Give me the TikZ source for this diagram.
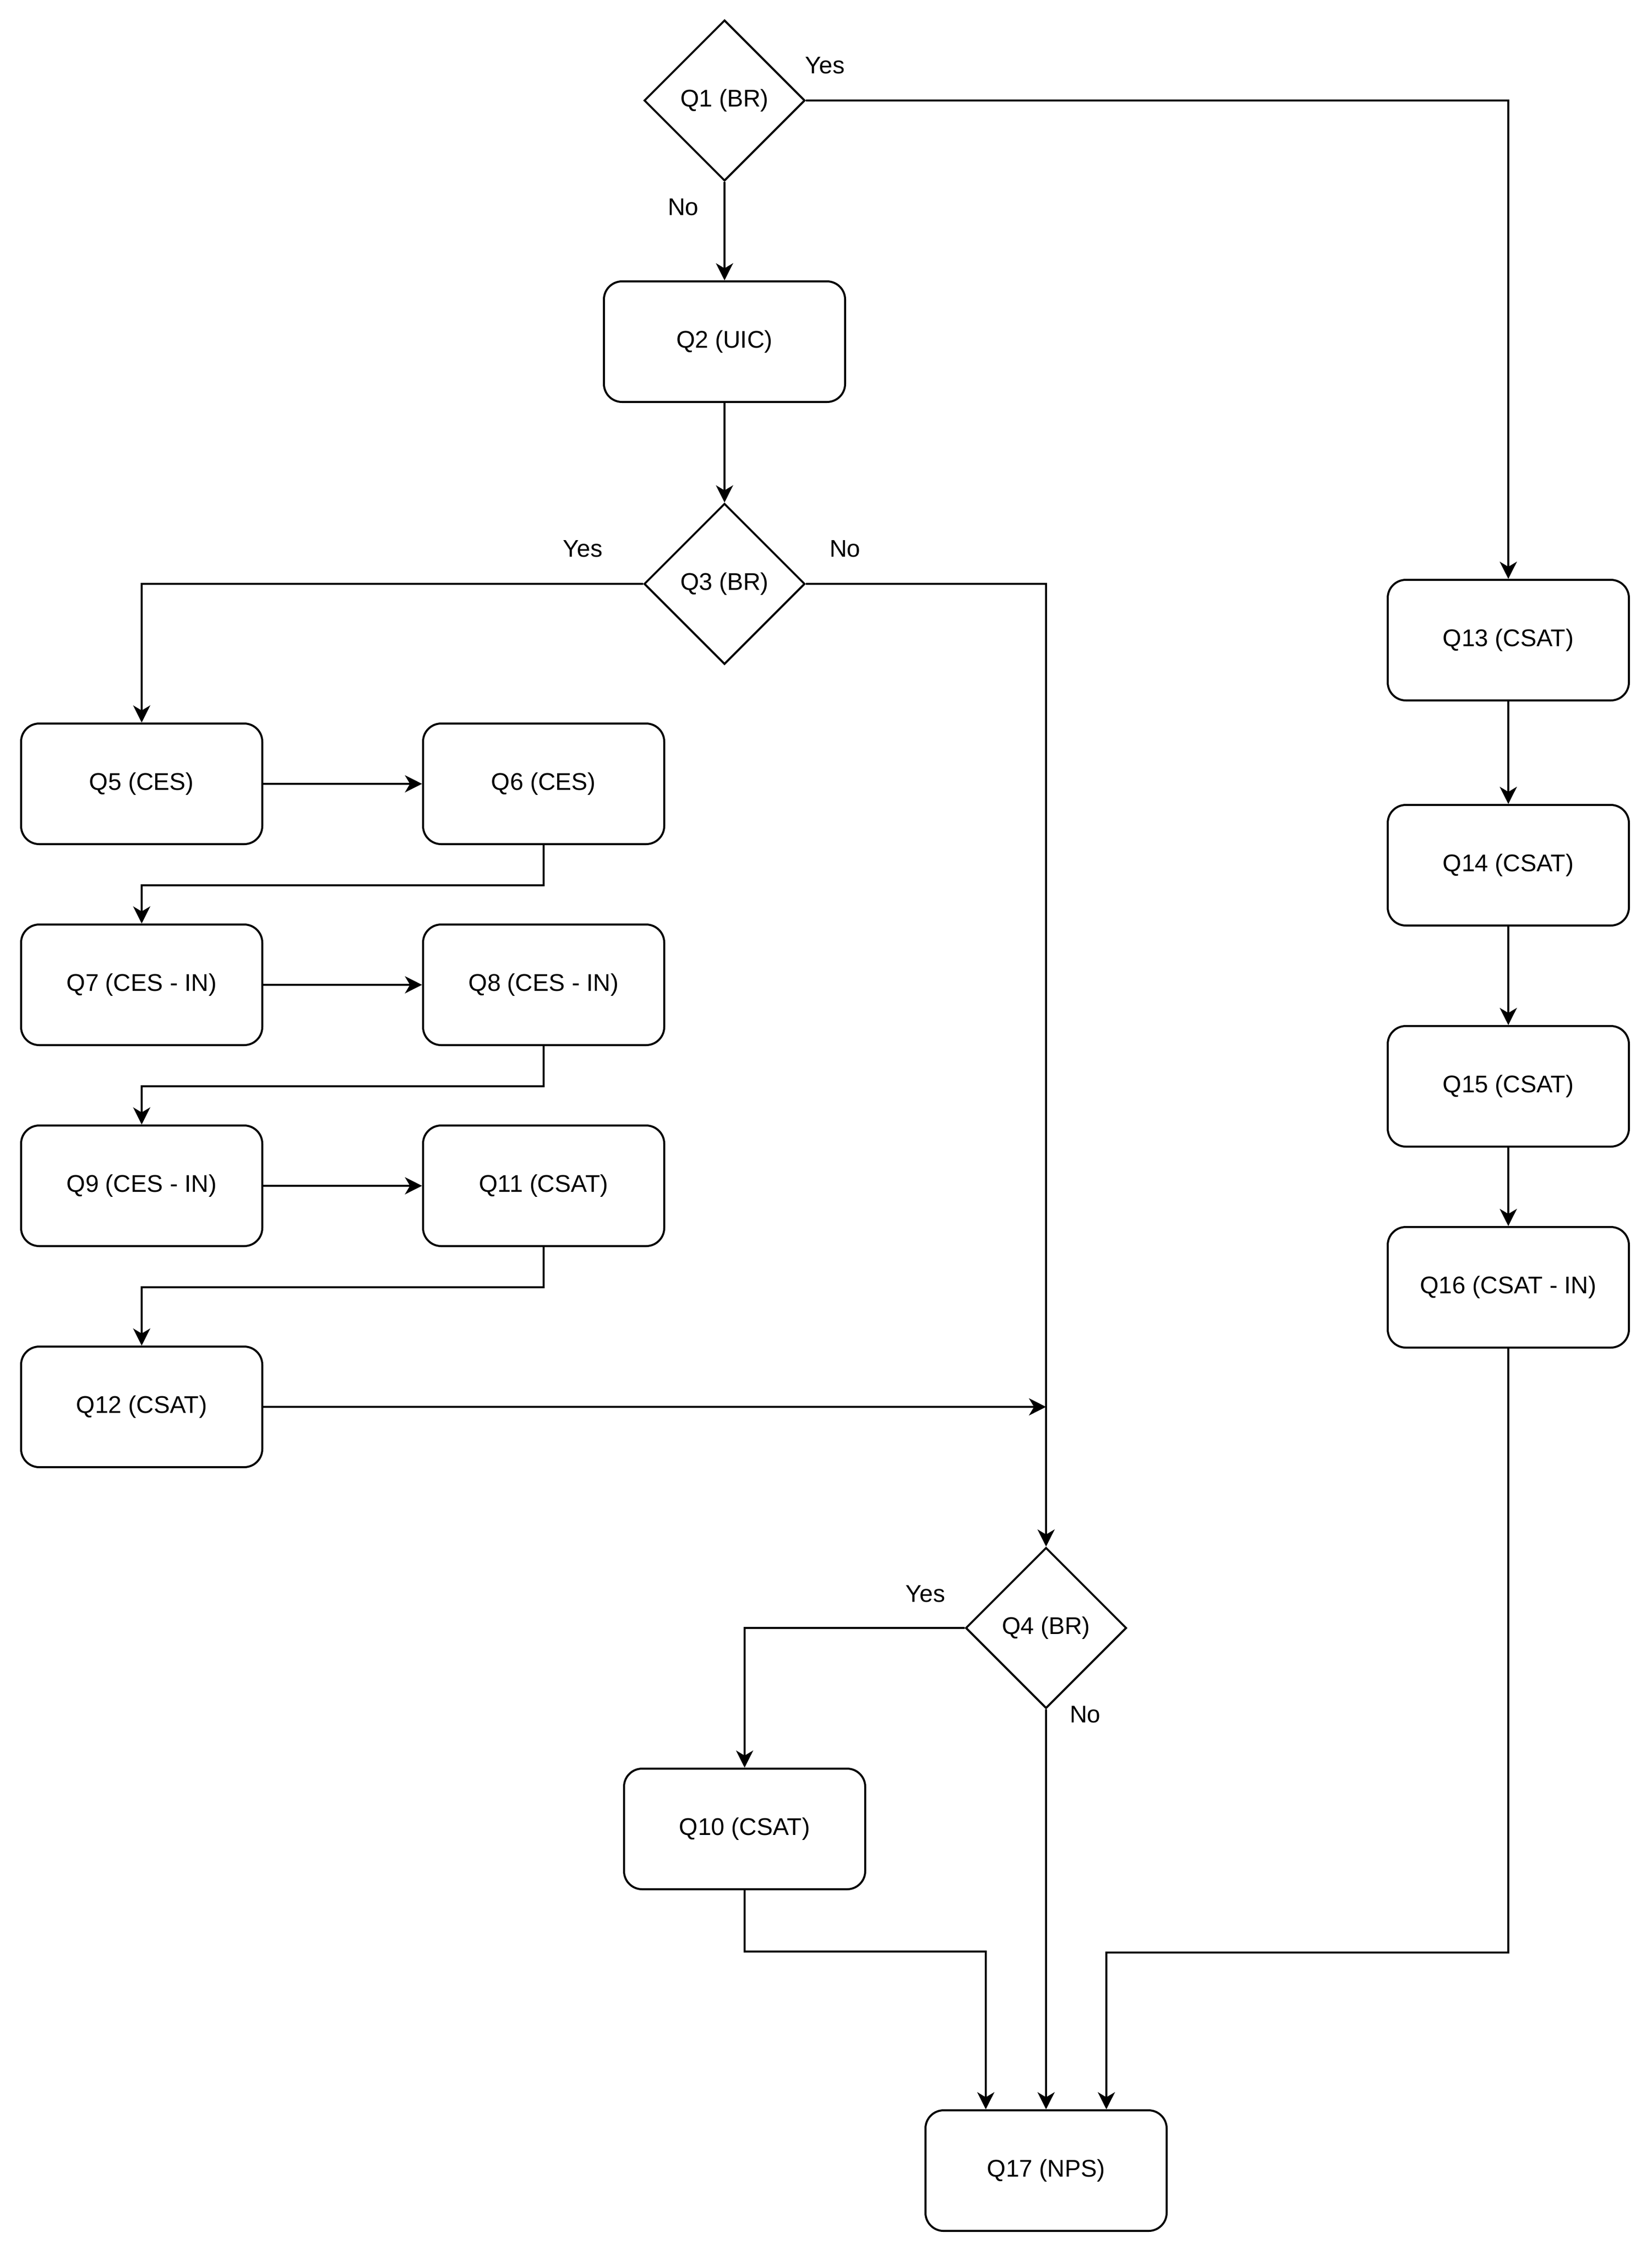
\documentclass[tikz,border=0pt]{standalone}
\usepackage{fontspec}
\setmainfont{Liberation Sans}
\usepackage{tikz}
\usetikzlibrary{arrows.meta}
\usetikzlibrary{shapes.geometric}
\usetikzlibrary{positioning, calc}

\tikzset{
  qbox/.style={draw, rounded corners=9pt, minimum width=120pt, minimum height=60pt, inner sep=0pt},
  qdiamond/.style={draw, diamond, aspect=1, minimum width=80pt, minimum height=80pt, inner sep=0pt},
  flow/.style={-{Stealth[length=8.5pt, width=8.5pt, inset=2.5pt]}},
  answer/.style={inner sep=0pt}
}

\begin{document}
\begin{tikzpicture}[x=1pt, y=-1pt, line width=1pt, every node/.style={font=\fontsize{12}{14}\selectfont}]
    \useasboundingbox (0,0) rectangle (822,1122);

    % decisions
    \node[qdiamond] (q1) at (360.5,50) {Q1 (BR)};
    \node[qbox] (q2) at (360.5,170) {Q2 (UIC)};
    \node[qdiamond] (q3) at (360.5,290.5) {Q3 (BR)};
    \node[qdiamond] (q4) at (520.5,810) {Q4 (BR)};

    % question boxes
    \foreach \n/\x/\y/\t in {
        q5/70.5/390/{Q5 (CES)}, q6/270.5/390/{Q6 (CES)},
        q7/70.5/490/{Q7 (CES - IN)}, q8/270.5/490/{Q8 (CES - IN)},
        q9/70.5/590/{Q9 (CES - IN)}, q11/270.5/590/{Q11 (CSAT)},
        q12/70.5/700/{Q12 (CSAT)},
        q13/750.5/318.5/{Q13 (CSAT)}, q14/750.5/430.5/{Q14 (CSAT)},
        q15/750.5/540.5/{Q15 (CSAT)}, q16/750.5/640.5/{Q16 (CSAT - IN)},
        q10/370.5/910/{Q10 (CSAT)}, q17/520.5/1080/{Q17 (NPS)}}
        \node[qbox] (\n) at (\x,\y) {\t};

    % answers
    \node[answer] (y1) at (410.5,32.5) {Yes};
    \node[answer] (n1) at (340,103) {No};
    \node[answer] (y3) at (290,273) {Yes};
    \node[answer] (n3) at (420.5,273) {No};
    \node[answer] (y4) at (460.5,793) {Yes};
    \node[answer] (n4) at (540,853) {No};

    \draw[flow] (q1) -- (q2);
    \draw[flow] (q1.east) -| (q13.north);
    \draw[flow] (q2) -- (q3);
    \draw[flow] (q3.west) -| (q5.north);
    \draw[flow] (q3.east) -| (q4.north);

    \foreach \a/\b in {q5/q6, q7/q8, q9/q11, q13/q14, q14/q15, q15/q16}
        \draw[flow] (\a) -- (\b);
    \foreach \a/\b in {q6/q7, q8/q9, q11/q12}
        \draw[flow] (\a.south) -- ++(0,20) -| (\b.north);

    \coordinate (j12) at (q4 |- q12);
    \draw[flow] (q12) -- (j12);

    \draw[flow] (q4.west) -| (q10.north);
    \draw[flow] (q4) -- (q17);
    \draw[flow] (q10.south) -- ++(0,30.5) -| ([xshift=-30pt]q17.north);
    \draw[flow] (q16.south) -- ++(0,300.5) -| ([xshift=30pt]q17.north);
\end{tikzpicture}
\end{document}
